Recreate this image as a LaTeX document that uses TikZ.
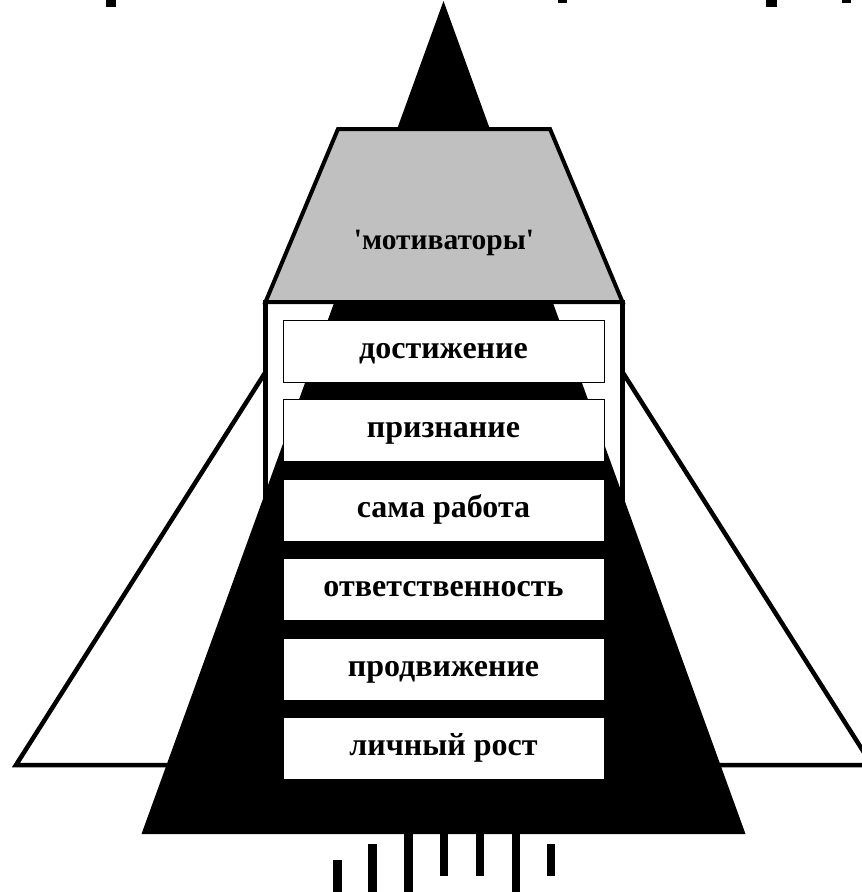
\documentclass[tikz,border=0pt]{standalone}
\usepackage{fontspec}
\setmainfont{Liberation Serif}
\definecolor{motivgray}{HTML}{C0C0C0}

\begin{document}
\begin{tikzpicture}[x=1pt,y=-1pt]

      \useasboundingbox (0,0) rectangle (862,892);

      % back triangle, rectangle and black triangle
      \draw[line width=4.5pt, fill=white] (444,91) -- (872,765) -- (16,765) -- cycle;
      \draw[line width=4.5pt, fill=white] (265.5,302) rectangle (622.5,500);
      \fill (443.5,1) -- (745.5,834) -- (141.5,834) -- cycle;

      % marks at top and bars under the triangle
      \fill (106,0) rectangle (116,7);
      \fill (558,0) rectangle (567,3);
      \fill (766,0) rectangle (777,7);
      \fill (842,0) rectangle (851,3);
      \fill (333,860) rectangle (342,892);
      \fill (368,844) rectangle (377,892);
      \fill (404,830) rectangle (413,892);
      \fill (440,830) rectangle (448,876);
      \fill (476,830) rectangle (484,876);
      \fill (512,830) rectangle (520,892);
      \fill (547,844) rectangle (555,876);

      \begin{scope}[every node/.style={draw, fill=white, line width=1pt,
          minimum width=321pt, minimum height=62pt, inner sep=0pt,
          text height=20pt, text depth=6pt,
          font=\fontsize{32}{40}\selectfont\bfseries}]
        \node (dost)   at (443.5,351.5) {достижение};
        \node (priz)   at (443.5,430.9) {признание};
        \node (rabota) at (443.5,510.3) {сама работа};
        \node (otv)    at (443.5,589.7) {ответственность};
        \node (prod)   at (443.5,669.1) {продвижение};
        \node (rost)   at (443.5,748.5) {личный рост};
      \end{scope}

      % top trapezoid
      \draw[line width=4pt, fill=motivgray] (338,129) -- (550,129) -- (622.5,302) -- (265.5,302) -- cycle;
      \node[anchor=base, font=\fontsize{29.5}{36}\selectfont\bfseries] (motiv) at (444,249)
        {\textquotesingle мотиваторы\textquotesingle};

    \end{tikzpicture}
\end{document}
